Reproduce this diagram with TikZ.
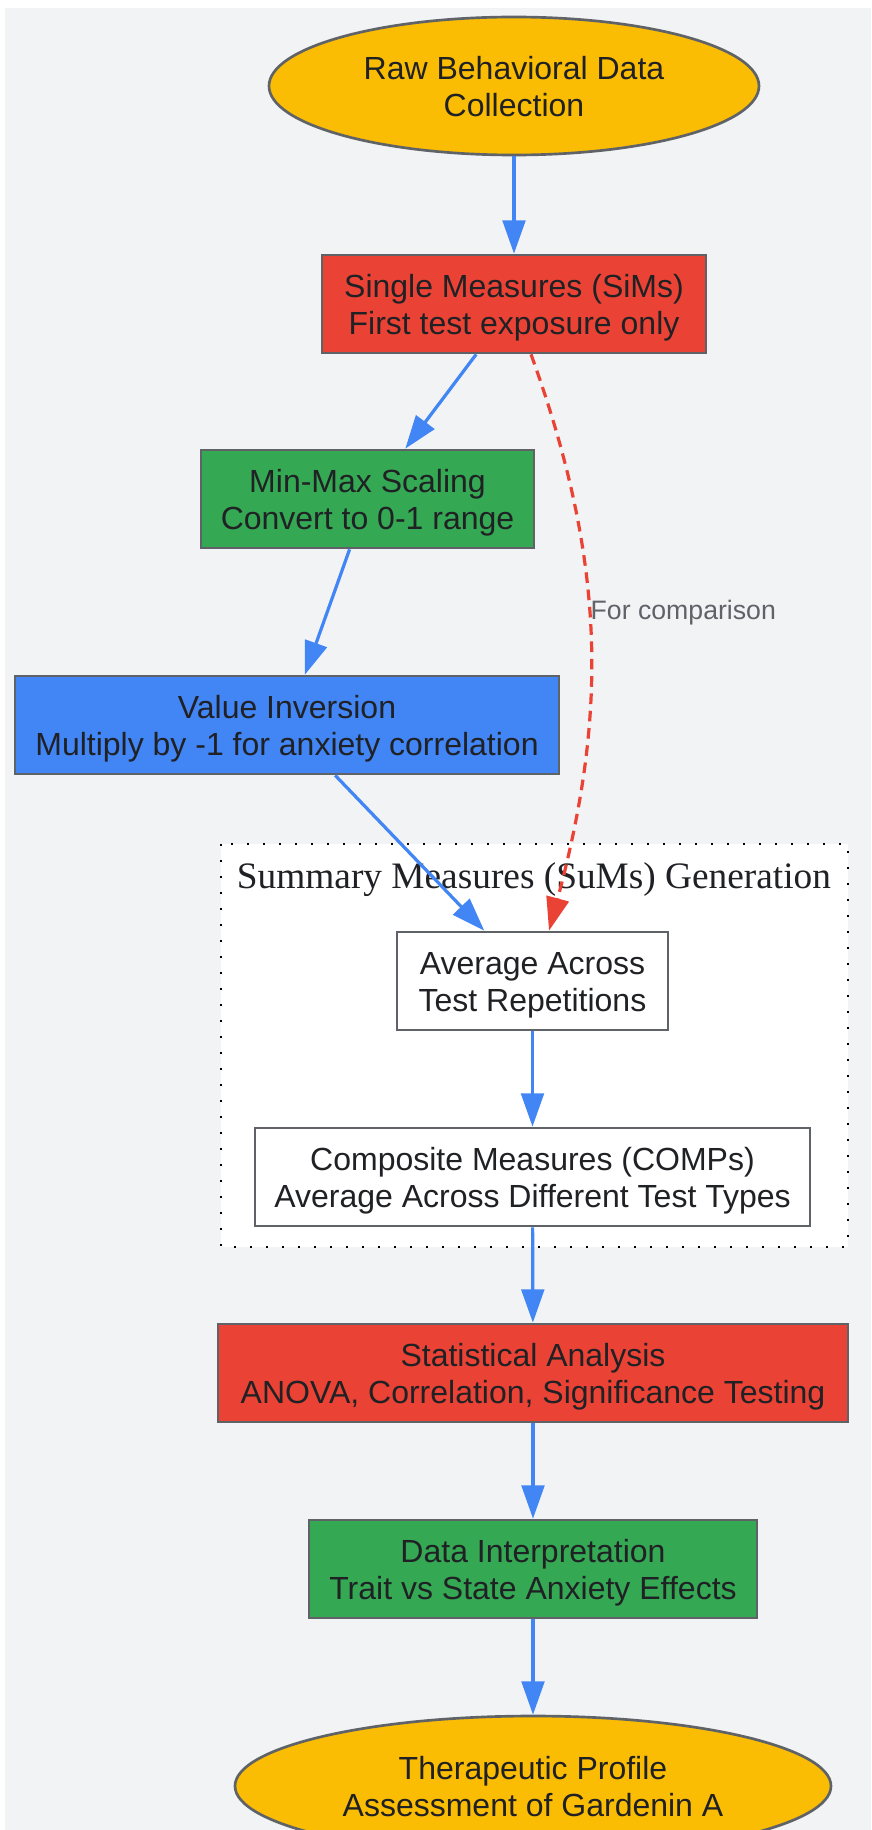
\documentclass[tikz,border=0pt]{standalone}
\usepackage{fontspec}
\setmainfont{Liberation Sans}
\newfontfamily\clusterfont{Liberation Serif}
\usetikzlibrary{shapes.geometric,arrows.meta}

\definecolor{pagegray}{HTML}{F1F3F4}
\definecolor{edgegray}{HTML}{5F6368}
\definecolor{inkdark}{HTML}{202124}
\definecolor{gyellow}{HTML}{FBBC04}
\definecolor{gred}{HTML}{EA4335}
\definecolor{ggreen}{HTML}{34A853}
\definecolor{gblue}{HTML}{4285F4}

\begin{document}
\begin{tikzpicture}[x=0.75pt,y=-0.75pt,font=\fontsize{24}{27.6}\selectfont,
  box/.style={draw=edgegray,line width=2pt,align=center,text=inkdark,minimum height=73.5pt,inner sep=0pt,text height=47.8pt,text depth=2pt},
  oval/.style={ellipse,draw=edgegray,line width=2pt,fill=gyellow,align=center,text=inkdark,inner sep=0pt,text height=47.8pt,text depth=2pt},
  flow/.style={-{Triangle[length=25pt,width=17pt]},draw=gblue,line width=2.4pt},
  compare/.style={flow,draw=gred,dash pattern=on 8pt off 5pt}]

\useasboundingbox (0,0) rectangle (871,1830);
\fill[white] (0,0) rectangle (871,1830);
\fill[pagegray] (5,8) rectangle (871,1830);

% summary cluster
\draw[fill=white,line width=1.6pt,dash pattern=on 1.6pt off 10.4pt] (221,844) rectangle (848,1247);
\node[font=\clusterfont\fontsize{28}{32}\selectfont,text=inkdark] (sumslabel) at (534,880) {Summary Measures (SuMs) Generation};

\node[oval,minimum width=367.5pt,minimum height=103.5pt] (raw) at (514,86) {Raw Behavioral Data\\Collection};
\node[box,fill=gred,minimum width=288pt] (sims) at (514,304) {Single Measures (SiMs)\\First test exposure only};
\node[box,fill=ggreen,minimum width=249.75pt] (minmax) at (367.5,499) {Min-Max Scaling\\Convert to 0-1 range};
\node[box,fill=gblue,minimum width=408pt] (inv) at (287,725) {Value Inversion\\Multiply by -1 for anxiety correlation};
\node[box,fill=white,minimum width=203.25pt] (avg) at (532.5,981) {Average Across\\Test Repetitions};
\node[box,fill=white,minimum width=416.25pt] (comps) at (532.5,1177) {Composite Measures (COMPs)\\Average Across Different Test Types};
\node[box,fill=gred,minimum width=472.5pt] (stat) at (533,1373) {Statistical Analysis\\ANOVA, Correlation, Significance Testing};
\node[box,fill=ggreen,minimum width=336pt] (interp) at (533,1569) {Data Interpretation\\Trait vs State Anxiety Effects};
\node[oval,minimum width=447pt,minimum height=105pt] (thera) at (533,1786) {Therapeutic Profile\\Assessment of Gardenin A};

\foreach \a/\b in {raw/sims,sims/minmax,minmax/inv,inv/avg,avg/comps,comps/stat,stat/interp,interp/thera}{%
\draw[flow] (\a) -- (\b);
}

\draw[compare] ([xshift=12.75pt]sims.south) .. controls (607,564) and (607,715) .. ([xshift=12.4pt]avg.north)
  node[pos=0.45,anchor=west,inner sep=0pt,text=edgegray,font=\fontsize{20}{23}\selectfont] {For comparison};

\end{tikzpicture}
\end{document}
